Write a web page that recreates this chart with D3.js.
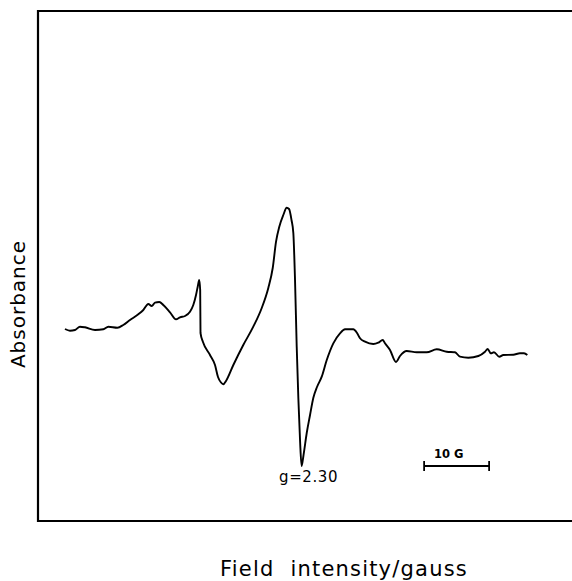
<!DOCTYPE html>
<html>
<head>
<meta charset="utf-8">
<script src="https://cdn.jsdelivr.net/npm/d3@7"></script>
<style>
	body { margin: 0; background: #fff; }
	text { font-family: "DejaVu Sans", sans-serif; fill: #000; }
</style>
</head>
<body>
<svg id="chart" width="572" height="581"></svg>
<script>
// field offset (gauss) and signal (arbitrary units)
const field = [
	4.15, 4.92, 5.69, 6.46, 7.23, 8.77, 10.05, 10.82, 12.2, 13.12,
	14.15, 15.43, 16.2, 16.97, 17.49, 18.0, 18.66, 19.28, 20.31, 21.23,
	21.85, 22.62, 23.38, 23.89, 24.31, 24.57, 24.8, 24.95, 25.0, 25.38,
	26.46, 27.23, 27.69, 28.15, 28.51, 28.92, 30.05, 31.58, 33.12, 34.42,
	35.43, 36.11, 36.62, 37.12, 37.74, 38.26, 38.62, 39.0, 39.28, 39.54,
	39.8, 40.05, 40.31, 40.55, 40.85, 41.34, 41.85, 42.35, 42.92, 43.65,
	44.42, 45.43, 46.46, 47.23, 48.51, 49.08, 49.54, 50.31, 51.58, 52.35,
	53.03, 53.38, 54.15, 55.08, 55.69, 56.72, 58.26, 59.8, 61.34, 62.88,
	64.15, 64.92, 66.2, 67.74, 68.77, 69.18, 69.65, 70.15, 70.97, 71.58,
	73.12, 74.15, 74.77, 75.28
];
const signal = [
	8, 7.15, 7.5, 9.15, 8.85, 7.5, 7.85, 9.15, 8.65, 10,
	12.5, 15.35, 17.5, 20.5, 19.5, 21.15, 21.5, 20, 16.35, 12.85,
	13.85, 14.5, 16.65, 20, 25, 29.15, 32.5, 27.5, 6, 1.5,
	-5, -10, -16, -18.75, -19.65, -18, -10, 0, 9.15, 18.5,
	28.5, 38.5, 51.65, 59.15, 65, 68.65, 68, 62.5, 56, 32.5,
	-0.85, -26.5, -47.5, -60.5, -55, -44, -35, -26.5, -21, -15.85,
	-7.5, 0.85, 5.85, 7.85, 7.85, 6, 3.35, 1.65, 0.5, 1.15,
	2.5, 0.85, -2.5, -8.5, -5.5, -3, -3.65, -3.65, -2.15, -3.35,
	-3.65, -5.85, -6.35, -5.5, -3.35, -2, -4.15, -3.65, -5.85, -5,
	-4.85, -4.15, -4.15, -5
];

const xDomain = [0, 82.15];
const yDomain = [-88, 167];
const scaleBarStart = 59.4; // gauss
const scaleBarLength = 10;
const gLabel = 'g=2.30';
const gLabelField = 40.55;

const svg = d3.select('#chart');
const margin = {left: 38, top: 11, right: 0, bottom: 60};
const width = +svg.attr('width'),
	height = +svg.attr('height');

const x = d3.scaleLinear().domain(xDomain).range([margin.left, width - margin.right]);
const y = d3.scaleLinear().domain(yDomain).range([height - margin.bottom, margin.top]);

const points = field.map((f, i) => ({f: f, s: signal[i]}));

// frame: top, left and bottom only
svg.append('path')
	.attr('d', `M${width},${y(yDomain[1])} H${x(xDomain[0])} V${y(yDomain[0])} H${width}`)
	.attr('fill', 'none')
	.attr('stroke', '#000')
	.attr('stroke-width', 2.2);

// spectrum
const line = d3.line()
	.x(d => x(d.f))
	.y(d => y(d.s))
	.curve(d3.curveMonotoneX);

svg.append('path')
	.datum(points)
	.attr('d', line)
	.attr('fill', 'none')
	.attr('stroke', '#000')
	.attr('stroke-width', 1.9)
	.attr('stroke-linejoin', 'round');

// g value label under the minimum
svg.append('text')
	.attr('x', x(gLabelField) + 7)
	.attr('y', 482)
	.attr('text-anchor', 'middle')
	.attr('font-size', '15px')
	.attr('letter-spacing', '0.6px')
	.text(gLabel);

// 10 G scale bar
const barY = 466;
const bx1 = x(scaleBarStart), bx2 = x(scaleBarStart + scaleBarLength);
const bar = svg.append('g').attr('stroke', '#000').attr('stroke-width', 1.8);
bar.append('line').attr('x1', bx1).attr('x2', bx2).attr('y1', barY).attr('y2', barY);
bar.append('line').attr('x1', bx1).attr('x2', bx1).attr('y1', barY - 5).attr('y2', barY + 5);
bar.append('line').attr('x1', bx2).attr('x2', bx2).attr('y1', barY - 5).attr('y2', barY + 5);

svg.append('text')
	.attr('x', (bx1 + bx2) / 2 - 8)
	.attr('y', 458)
	.attr('text-anchor', 'middle')
	.attr('font-size', '11.5px')
	.attr('font-weight', 'bold')
	.text(scaleBarLength + ' G');

// axis titles
svg.append('text')
	.attr('transform', 'translate(25,304) rotate(-90)')
	.attr('text-anchor', 'middle')
	.attr('font-size', '20px')
	.attr('letter-spacing', '1px')
	.text('Absorbance');

svg.append('text')
	.attr('x', 344)
	.attr('y', 576)
	.attr('text-anchor', 'middle')
	.attr('font-size', '21px')
	.attr('letter-spacing', '1.2px')
	.attr('word-spacing', '8px')
	.text('Field intensity/gauss');
</script>
</body>
</html>
